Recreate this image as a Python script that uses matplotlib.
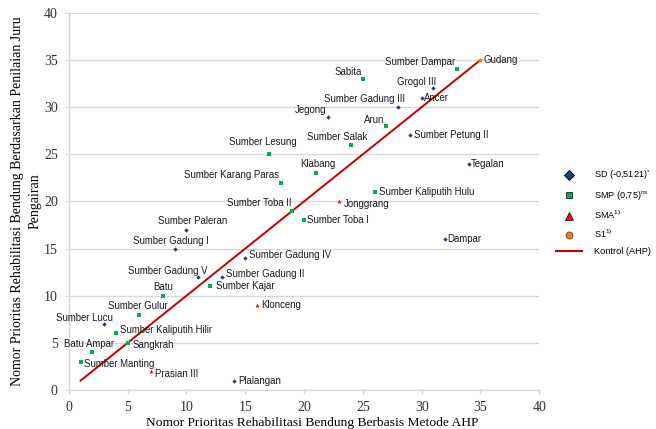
import matplotlib
matplotlib.use("Agg")
import matplotlib.pyplot as plt
from matplotlib.lines import Line2D

# ---------------------------------------------------------------------------
# Data: (AHP priority, Juru Pengairan priority) per bendung, grouped by class
# ---------------------------------------------------------------------------
sd_names = ["Jegong", "Sumber Gadung III", "Grogol III", "Ancer", "Sumber Petung II",
            "Tegalan", "Dampar", "Sumber Paleran", "Sumber Gadung I", "Sumber Gadung IV",
            "Sumber Gadung V", "Sumber Gadung II", "Sumber Lucu", "Plalangan"]
sd_x = [22, 28, 31, 30, 29, 34, 32, 10, 9, 15, 11, 13, 3, 14]
sd_y = [29, 30, 32, 31, 27, 24, 16, 17, 15, 14, 12, 12, 7, 1]

smp_names = ["Sumber Dampar", "Sabita", "Arun", "Sumber Salak", "Sumber Lesung", "Klabang",
             "Sumber Karang Paras", "Sumber Kaliputih Hulu", "Sumber Toba II", "Sumber Toba I",
             "Sumber Kajar", "Batu", "Sumber Gulur", "Sumber Kaliputih Hilir", "Sangkrah",
             "Batu Ampar", "Sumber Manting"]
smp_x = [33, 25, 27, 24, 17, 21, 18, 26, 19, 20, 12, 8, 6, 4, 5, 2, 1]
smp_y = [34, 33, 28, 26, 25, 23, 22, 21, 19, 18, 11, 10, 8, 6, 5, 4, 3]

sma_names = ["Jonggrang", "Klonceng", "Prasian III"]
sma_x = [23, 16, 7]
sma_y = [20, 9, 2]

s1_names = ["Gudang"]
s1_x = [35]
s1_y = [35]

kontrol_x = [1, 35]
kontrol_y = [1, 35]

# label placement: name -> (dx px, dy px, horizontal alignment)
label_pos = {
    "Gudang": (3, 0, "left"), "Sumber Dampar": (-2, 7, "right"), "Sabita": (-1, 7, "right"),
    "Grogol III": (3, 6, "right"), "Ancer": (2, 0, "left"),
    "Sumber Gadung III": (7, 8, "right"), "Jegong": (-1, 7, "right"), "Arun": (-2, 6, "right"),
    "Sumber Petung II": (4, 0, "left"), "Sumber Salak": (16, 8, "right"),
    "Sumber Lesung": (-6, 12, "center"), "Tegalan": (2, 0, "left"), "Klabang": (2, 9, "center"),
    "Sumber Karang Paras": (-1, 8, "right"), "Sumber Kaliputih Hulu": (4, 0, "left"),
    "Jonggrang": (4, -3, "left"), "Sumber Toba II": (-1, 8, "right"),
    "Sumber Toba I": (3, 0, "left"), "Dampar": (2, 0, "left"),
    "Sumber Paleran": (6, 9, "center"), "Sumber Gadung I": (-4, 8, "center"),
    "Sumber Gadung IV": (4, 3, "left"), "Sumber Gadung V": (9, 6, "right"),
    "Sumber Gadung II": (4, 3, "left"), "Sumber Kajar": (6, 0, "left"),
    "Batu": (0, 9, "center"), "Klonceng": (4, 0, "left"), "Sumber Gulur": (-2, 9, "center"),
    "Sumber Lucu": (9, 6, "right"), "Sumber Kaliputih Hilir": (4, 3, "left"),
    "Sangkrah": (5, -2, "left"), "Batu Ampar": (-3, 8, "center"),
    "Sumber Manting": (3, -2, "left"), "Prasian III": (4, -3, "left"),
    "Plalangan": (5, 0, "left"),
}

SD_C, SMP_C, SMA_C, S1_C, LINE_C = "#1f3f7a", "#00b050", "#ff0000", "#ed7d31", "#c00000"

fig = plt.figure(figsize=(6.56, 4.29), dpi=100)
ax = fig.add_axes([0.105, 0.091, 0.717, 0.879])

ax.plot(kontrol_x, kontrol_y, color=LINE_C, lw=1.4, zorder=2)
ax.scatter(sd_x, sd_y, marker="D", s=5, color=SD_C, zorder=3, linewidths=0)
ax.scatter(smp_x, smp_y, marker="s", s=9, color=SMP_C, zorder=3, linewidths=0)
ax.scatter(sma_x, sma_y, marker="^", s=7, color=SMA_C, zorder=3, linewidths=0)
ax.scatter(s1_x, s1_y, marker="o", s=8, color=S1_C, zorder=3, linewidths=0)

for names, xs, ys in [(sd_names, sd_x, sd_y), (smp_names, smp_x, smp_y),
                      (sma_names, sma_x, sma_y), (s1_names, s1_x, s1_y)]:
    for n, x, y in zip(names, xs, ys):
        dx, dy, ha = label_pos[n]
        ax.annotate(n, (x, y), xytext=(dx, dy), textcoords="offset pixels",
                    ha=ha, va="center", fontsize=6.9, family="Liberation Sans",
                    color="#1a1a1a", zorder=4)

ax.set_xlim(0, 40)
ax.set_ylim(0, 40)
ax.set_xticks(range(0, 41, 5))
ax.set_yticks(range(0, 41, 5))
ax.tick_params(length=3, width=1, color="#d9d9d9", labelsize=10, pad=5)
for lab in ax.get_xticklabels() + ax.get_yticklabels():
    lab.set_family("Liberation Serif")
    lab.set_color("#333333")
ax.yaxis.grid(True, color="#d9d9d9", lw=1)
ax.set_axisbelow(True)
for side in ["top", "right"]:
    ax.spines[side].set_visible(False)
for side in ["left", "bottom"]:
    ax.spines[side].set_color("#d9d9d9")
    ax.spines[side].set_linewidth(1)

ax.set_xlabel("Nomor Prioritas Rehabilitasi Bendung Berbasis Metode AHP",
              family="Liberation Serif", fontsize=9.7)
ax.xaxis.set_label_coords(0.517, -0.072)
ax.set_ylabel("Nomor Prioritas Rehabilitasi Bendung Berdasarkan Penilaian Juru\nPengairan",
              family="Liberation Serif", fontsize=10, linespacing=1.45)
ax.yaxis.set_label_coords(-0.058, 0.5)

handles = [
    Line2D([], [], ls="", marker="D", ms=5, color=SD_C, mec="black", mew=0.6),
    Line2D([], [], ls="", marker="s", ms=5, color=SMP_C, mec="#1a1a1a", mew=0.6),
    Line2D([], [], ls="", marker="^", ms=6, color=SMA_C, mec="#1a1a1a", mew=0.6),
    Line2D([], [], ls="", marker="o", ms=5, color=S1_C, mec="#7f3f00", mew=0.6),
    Line2D([], [], color=LINE_C, lw=1.5),
]
labels = [r"SD (-0,5121)$^{\mathregular{*}}$", r"SMP (0,75)$^{\mathregular{ns}}$",
          r"SMA$^{\mathregular{1)}}$", r"S1$^{\mathregular{1)}}$", "Kontrol (AHP)"]
fig.legend(handles, labels, loc="center left", bbox_to_anchor=(0.835, 0.505),
           frameon=False, prop={"family": "Liberation Sans", "size": 6.6},
           handlelength=2.8, labelspacing=0.75, handletextpad=1.3)

fig.savefig("out.png", dpi=100)
